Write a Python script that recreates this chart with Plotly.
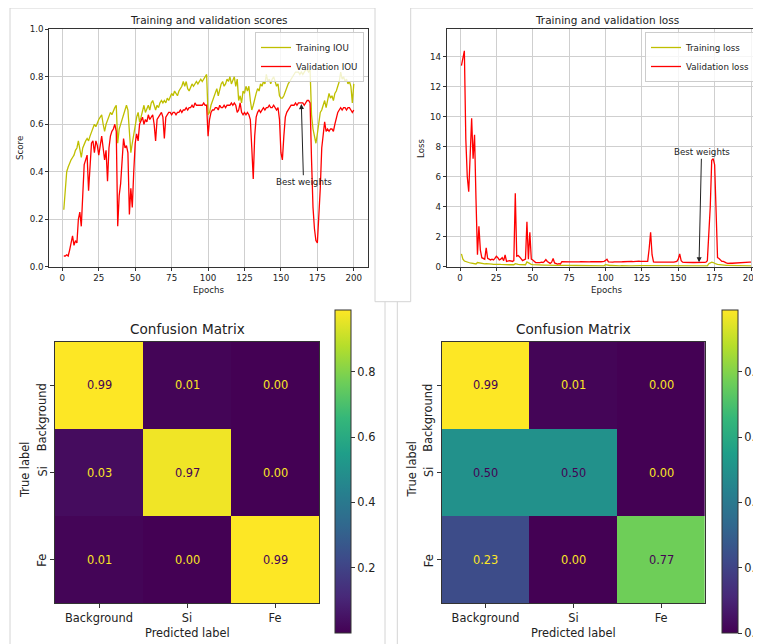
import plotly.graph_objects as go

# ---------------- data ----------------
epochs = list(range(1, 201))

train_iou = [
    0.24, 0.33, 0.40, 0.42, 0.44, 0.45, 0.46, 0.47, 0.49, 0.50,
    0.53, 0.49, 0.46, 0.50, 0.52, 0.53, 0.54, 0.53, 0.55, 0.57,
    0.58, 0.60, 0.59, 0.61, 0.62, 0.63, 0.64, 0.60, 0.57, 0.60,
    0.62, 0.63, 0.65, 0.64, 0.66, 0.67, 0.68, 0.52, 0.58, 0.60,
    0.62, 0.64, 0.66, 0.68, 0.66, 0.55, 0.48, 0.52, 0.56, 0.60,
    0.63, 0.65, 0.61, 0.63, 0.66, 0.68, 0.65, 0.67, 0.68, 0.66,
    0.69, 0.70, 0.68, 0.66, 0.68, 0.67, 0.69, 0.70, 0.69, 0.70,
    0.69, 0.71, 0.70, 0.72, 0.73, 0.72, 0.74, 0.73, 0.72, 0.74,
    0.75, 0.76, 0.78, 0.76, 0.78, 0.75, 0.74, 0.76, 0.77, 0.76,
    0.77, 0.78, 0.77, 0.78, 0.79, 0.78, 0.79, 0.80, 0.81, 0.64,
    0.65, 0.68, 0.70, 0.72, 0.74, 0.75, 0.72, 0.75, 0.77, 0.78,
    0.76, 0.77, 0.79, 0.78, 0.80, 0.77, 0.79, 0.80, 0.76, 0.79,
    0.70, 0.72, 0.69, 0.74, 0.73, 0.76, 0.74, 0.76, 0.70, 0.66,
    0.68, 0.71, 0.73, 0.75, 0.74, 0.77, 0.76, 0.78, 0.77, 0.81,
    0.78, 0.79, 0.77, 0.79, 0.80, 0.78, 0.76, 0.77, 0.72, 0.71,
    0.71, 0.72, 0.74, 0.76, 0.77, 0.78, 0.79, 0.80, 0.81, 0.82,
    0.82, 0.82, 0.81, 0.82, 0.81, 0.82, 0.83, 0.83, 0.82, 0.83,
    0.64, 0.58, 0.54, 0.52, 0.56, 0.62, 0.65, 0.66, 0.68, 0.70,
    0.67, 0.71, 0.73, 0.71, 0.72, 0.70, 0.73, 0.74, 0.76, 0.78,
    0.82, 0.79, 0.80, 0.78, 0.79, 0.77, 0.78, 0.76, 0.69, 0.77,
]

val_iou = [
    0.045, 0.045, 0.05, 0.045, 0.07, 0.10, 0.13, 0.09, 0.11, 0.10,
    0.20, 0.23, 0.17, 0.30, 0.43, 0.45, 0.47, 0.32, 0.45, 0.52,
    0.53, 0.48, 0.53, 0.51, 0.47, 0.52, 0.55, 0.50, 0.45, 0.49,
    0.36, 0.50, 0.55, 0.57, 0.58, 0.60, 0.57, 0.17, 0.30, 0.35,
    0.45, 0.54, 0.50, 0.51, 0.48, 0.22, 0.33, 0.25, 0.40, 0.52,
    0.56, 0.53, 0.60, 0.62, 0.63, 0.60, 0.62, 0.61, 0.64, 0.62,
    0.63, 0.64, 0.60, 0.53, 0.62, 0.63, 0.64, 0.65, 0.63, 0.54,
    0.63, 0.64, 0.65, 0.65, 0.64, 0.65, 0.65, 0.64, 0.65, 0.65,
    0.66, 0.65, 0.66, 0.66, 0.67, 0.66, 0.67, 0.67, 0.68, 0.67,
    0.69, 0.68, 0.68, 0.68, 0.68, 0.68, 0.69, 0.68, 0.68, 0.55,
    0.62, 0.65, 0.66, 0.66, 0.67, 0.67, 0.66, 0.68, 0.67, 0.67,
    0.68, 0.67, 0.68, 0.68, 0.68, 0.69, 0.68, 0.69, 0.68, 0.65,
    0.66, 0.69, 0.65, 0.64, 0.65, 0.64, 0.65, 0.64, 0.62, 0.50,
    0.37, 0.55, 0.63, 0.65, 0.66, 0.65, 0.66, 0.67, 0.66, 0.67,
    0.67, 0.68, 0.67, 0.67, 0.68, 0.67, 0.66, 0.67, 0.62, 0.48,
    0.45, 0.55, 0.63, 0.65, 0.66, 0.67, 0.68, 0.68, 0.68, 0.69,
    0.68, 0.69, 0.69, 0.69, 0.69, 0.68, 0.69, 0.70, 0.70, 0.69,
    0.45, 0.25, 0.16, 0.11, 0.10, 0.20, 0.33, 0.50, 0.56, 0.61,
    0.57, 0.58, 0.57, 0.58, 0.58, 0.57, 0.60, 0.63, 0.65, 0.66,
    0.67, 0.66, 0.67, 0.67, 0.66, 0.67, 0.67, 0.66, 0.65, 0.66,
]

train_loss = [
    0.85, 0.50, 0.38, 0.33, 0.30, 0.28, 0.25, 0.24, 0.22, 0.20,
    0.18, 0.28, 0.26, 0.20, 0.19, 0.18, 0.19, 0.20, 0.18, 0.17,
    0.18, 0.17, 0.16, 0.17, 0.16, 0.15, 0.16, 0.15, 0.14, 0.15,
    0.15, 0.14, 0.14, 0.13, 0.14, 0.13, 0.13, 0.20, 0.16, 0.15,
    0.14, 0.13, 0.13, 0.12, 0.13, 0.32, 0.25, 0.20, 0.16, 0.14,
    0.13, 0.12, 0.12, 0.11, 0.12, 0.11, 0.11, 0.10, 0.11, 0.10,
    0.10, 0.10, 0.10, 0.11, 0.10, 0.09, 0.09, 0.10, 0.09, 0.09,
    0.09, 0.09, 0.09, 0.08, 0.09, 0.08, 0.08, 0.09, 0.08, 0.08,
    0.08, 0.08, 0.08, 0.07, 0.08, 0.08, 0.07, 0.08, 0.07, 0.07,
    0.07, 0.07, 0.07, 0.07, 0.07, 0.07, 0.07, 0.06, 0.06, 0.14,
    0.11, 0.09, 0.08, 0.08, 0.07, 0.07, 0.07, 0.07, 0.07, 0.06,
    0.07, 0.06, 0.06, 0.06, 0.06, 0.06, 0.06, 0.06, 0.07, 0.06,
    0.09, 0.08, 0.08, 0.07, 0.07, 0.07, 0.07, 0.07, 0.08, 0.09,
    0.10, 0.08, 0.07, 0.07, 0.06, 0.06, 0.06, 0.06, 0.06, 0.06,
    0.06, 0.06, 0.06, 0.06, 0.06, 0.06, 0.06, 0.06, 0.07, 0.08,
    0.08, 0.07, 0.07, 0.06, 0.06, 0.06, 0.06, 0.05, 0.05, 0.05,
    0.05, 0.05, 0.05, 0.05, 0.05, 0.05, 0.05, 0.05, 0.05, 0.06,
    0.20, 0.28, 0.30, 0.28, 0.22, 0.18, 0.16, 0.14, 0.12, 0.11,
    0.10, 0.10, 0.09, 0.09, 0.08, 0.08, 0.08, 0.08, 0.07, 0.07,
    0.07, 0.07, 0.07, 0.07, 0.07, 0.06, 0.06, 0.06, 0.06, 0.06,
]

val_loss = [
    13.4, 13.8, 14.4, 8.5, 6.0, 5.0, 7.5, 9.9, 7.2, 8.8,
    4.5, 0.8, 2.7, 1.1, 0.6, 0.55, 0.5, 1.25, 0.55, 0.5,
    0.45, 0.5, 0.45, 0.55, 0.7, 0.6, 0.45, 0.5, 0.6, 0.4,
    0.78, 0.35, 0.4, 0.4, 0.38, 0.35, 0.4, 4.9, 0.7, 0.75,
    0.65, 0.5, 0.4, 0.45, 0.5, 3.0, 0.5, 2.3, 0.5, 0.45,
    0.35, 0.28, 0.27, 0.25, 0.27, 0.3, 0.28, 0.35, 0.48, 0.35,
    0.25, 0.22, 0.3, 0.55, 0.25, 0.18, 0.17, 0.2, 0.18, 0.33,
    0.32, 0.33, 0.31, 0.32, 0.33, 0.32, 0.32, 0.31, 0.33, 0.32,
    0.33, 0.32, 0.34, 0.33, 0.32, 0.33, 0.34, 0.33, 0.32, 0.33,
    0.34, 0.33, 0.33, 0.34, 0.33, 0.34, 0.33, 0.34, 0.35, 0.42,
    0.5, 0.32, 0.3, 0.31, 0.31, 0.32, 0.31, 0.32, 0.32, 0.33,
    0.32, 0.33, 0.34, 0.33, 0.34, 0.33, 0.34, 0.35, 0.34, 0.36,
    0.38, 0.4, 0.37, 0.36, 0.35, 0.34, 0.33, 0.34, 0.36, 1.2,
    2.3, 0.8, 0.32, 0.3, 0.29, 0.3, 0.3, 0.29, 0.3, 0.31,
    0.3, 0.29, 0.3, 0.3, 0.29, 0.3, 0.31, 0.32, 0.35, 0.5,
    0.85, 0.4, 0.3, 0.29, 0.28, 0.28, 0.29, 0.28, 0.28, 0.28,
    0.28, 0.29, 0.28, 0.28, 0.28, 0.28, 0.29, 0.29, 0.3, 0.4,
    2.0, 4.0, 7.1, 7.2, 6.8, 3.0, 0.6, 0.55, 0.45, 0.35,
    0.35, 0.28, 0.25, 0.22, 0.25, 0.24, 0.23, 0.24, 0.25, 0.25,
    0.26, 0.27, 0.28, 0.29, 0.3, 0.3, 0.31, 0.3, 0.31, 0.3,
]

classes = ["Background", "Si", "Fe"]
cm_left = [[0.99, 0.01, 0.00],
           [0.03, 0.97, 0.00],
           [0.01, 0.00, 0.99]]
cm_right = [[0.99, 0.01, 0.00],
            [0.50, 0.50, 0.00],
            [0.23, 0.00, 0.77]]

epoch_ticks = [0, 25, 50, 75, 100, 125, 150, 175, 200]
score_ticks = [0.0, 0.2, 0.4, 0.6, 0.8, 1.0]
loss_ticks = [0, 2, 4, 6, 8, 10, 12, 14]
cbar_ticks_left = [0.2, 0.4, 0.6, 0.8]
cbar_ticks_right = [0.0, 0.2, 0.4, 0.6, 0.8]

# ---------------- layout helpers ----------------
# the page body has an 8px margin, so screen coords are offset by 8px
OFF = 8
W, H = 761 - OFF, 644 - OFF
def PX(x):
    return (x - OFF) / W
def PY(y):
    return 1 - (y - OFF) / H

FONT = "DejaVu Sans"
TXT = "#222222"
AX = "#333333"
GRID = "#cfcfcf"
YEL = "#bfbf00"
RED = "#ff0000"
VIRIDIS = [[0.0, "#440154"], [0.111, "#482878"], [0.222, "#3e4989"], [0.333, "#31688e"],
           [0.444, "#26828e"], [0.555, "#1f9e89"], [0.666, "#35b779"], [0.777, "#6ece58"],
           [0.888, "#b5de2b"], [1.0, "#fde725"]]

fig = go.Figure()

# ---------------- line charts ----------------
fig.add_trace(go.Scatter(x=epochs, y=train_iou, mode="lines", name="Training IOU",
                         line=dict(color=YEL, width=1.3), xaxis="x", yaxis="y", legend="legend"))
fig.add_trace(go.Scatter(x=epochs, y=val_iou, mode="lines", name="Validation IOU",
                         line=dict(color=RED, width=1.3), xaxis="x", yaxis="y", legend="legend"))
fig.add_trace(go.Scatter(x=epochs, y=train_loss, mode="lines", name="Training loss",
                         line=dict(color=YEL, width=1.3), xaxis="x2", yaxis="y2", legend="legend2"))
fig.add_trace(go.Scatter(x=epochs, y=val_loss, mode="lines", name="Validation loss",
                         line=dict(color=RED, width=1.3), xaxis="x2", yaxis="y2", legend="legend2"))

# ---------------- heatmaps ----------------
# vertical pixel shift of the rotated row labels (style only)
row_label_shift = {"Background": -32, "Si": 1, "Fe": -1}

def add_cm(cm, xa, ya, cbx, ticks, label_x):
    flat = [v for row in cm for v in row]
    zmin, zmax = min(flat), max(flat)
    fig.add_trace(go.Heatmap(
        z=cm, x=classes, y=classes, xaxis=xa, yaxis=ya, zmin=zmin, zmax=zmax,
        colorscale=VIRIDIS, showscale=True, hoverinfo="skip",
        colorbar=dict(x=PX(cbx), xanchor="left", xpad=0, thickness=16,
                      len=323, lenmode="pixels", y=PY(471.5), yanchor="middle", ypad=0,
                      outlinewidth=1, outlinecolor=AX, ticks="outside", ticklen=4,
                      tickcolor=AX, tickvals=ticks, tickformat=".1f",
                      tickfont=dict(size=11.4, color=TXT, family=FONT))))
    thr = (zmin + zmax) / 2
    for i, row in enumerate(cm):
        for j, v in enumerate(row):
            fig.add_annotation(x=classes[j], y=classes[i], xref=xa, yref=ya,
                               text=f"{v:.2f}", showarrow=False,
                               font=dict(size=11.4, family=FONT,
                                         color="#440154" if v >= thr else "#fde725"))
    for c in classes:
        fig.add_annotation(x=PX(label_x), y=c, xref="paper", yref=ya, text=c,
                           showarrow=False, textangle=-90, xanchor="center",
                           yanchor="middle", yshift=row_label_shift[c],
                           font=dict(size=11.4, family=FONT, color=TXT))

add_cm(cm_left, "x3", "y3", 335, cbar_ticks_left, 42)
add_cm(cm_right, "x4", "y4", 722, cbar_ticks_right, 428.5)

# ---------------- axes ----------------
tick_small = dict(size=8.7, color=TXT, family=FONT)
tick_big = dict(size=11.4, color=TXT, family=FONT)

line_ax = dict(showline=True, linecolor=AX, linewidth=1, ticks="outside", ticklen=3,
               tickcolor=AX, showgrid=True, gridcolor=GRID, gridwidth=1,
               zeroline=False, tickfont=tick_small)

layout = dict(
    width=W, height=H, margin=dict(l=0, r=0, t=0, b=0, autoexpand=False),
    paper_bgcolor="white", plot_bgcolor="white",
    font=dict(family=FONT, color=TXT),
    xaxis=dict(domain=[PX(49.3), PX(368.3)], range=[-8.95, 209.95], tickvals=epoch_ticks,
               mirror=True, anchor="y", **line_ax),
    yaxis=dict(domain=[PY(266.7), PY(29.3)], range=[0, 1.0], tickvals=score_ticks,
               tickformat=".1f", mirror=True, anchor="x", **line_ax),
    xaxis2=dict(domain=[PX(446.7), 1.0], range=[-9.14, 206.87], tickvals=epoch_ticks,
                mirror=True, anchor="y2", **line_ax),
    yaxis2=dict(domain=[PY(266.7), PY(29.3)], range=[0, 15.83], tickvals=loss_ticks,
                mirror=False, anchor="x2", **line_ax),
)

hm_ax = dict(showline=True, mirror=True, linecolor=AX, linewidth=1, ticks="outside",
             ticklen=4, tickcolor=AX, showgrid=False, zeroline=False, tickfont=tick_big)
hm_x = dict(type="category", categoryorder="array", categoryarray=classes,
            range=[-0.5, 2.5], autorange=False)
hm_y = dict(type="category", categoryorder="array", categoryarray=classes,
            range=[2.5, -0.5], autorange=False, showticklabels=False)
layout["xaxis3"] = dict(domain=[PX(55), PX(319)], anchor="y3", **hm_x, **hm_ax)
layout["yaxis3"] = dict(domain=[PY(603.3), PY(341.7)], anchor="x3", **hm_y, **hm_ax)
layout["xaxis4"] = dict(domain=[PX(441.7), PX(705)], anchor="y4", **hm_x, **hm_ax)
layout["yaxis4"] = dict(domain=[PY(603.3), PY(341.7)], anchor="x4", **hm_y, **hm_ax)

leg = dict(bgcolor="rgba(255,255,255,0.8)", bordercolor="#cccccc", borderwidth=1,
           font=dict(size=8.7, color=TXT, family=FONT), yanchor="top", itemwidth=30,
           tracegroupgap=0)
layout["legend"] = dict(x=PX(364), y=PY(32), xanchor="right", **leg)
layout["legend2"] = dict(x=PX(645), y=PY(32), xanchor="left", **leg)

fig.update_layout(**layout)

# ---------------- text labels ----------------
def label(x, y, text, size, angle=0):
    fig.add_annotation(x=PX(x), y=PY(y), xref="paper", yref="paper", text=text,
                       showarrow=False, textangle=angle, xanchor="center", yanchor="middle",
                       font=dict(size=size, color=TXT, family=FONT))

label(208.8, 20, "Training and validation scores", 10.5)
label(606.5, 20, "Training and validation loss", 10.5)
label(20, 148, "Score", 8.7, -90)
label(421, 148, "Loss", 8.7, -90)
label(208.8, 289.5, "Epochs", 8.7)
label(606.5, 289.5, "Epochs", 8.7)
label(187, 329, "Confusion Matrix", 13.6)
label(573.4, 329, "Confusion Matrix", 13.6)
label(187, 633, "Predicted label", 11.4)
label(573.4, 633, "Predicted label", 11.4)
label(25, 470, "True label", 11.4, -90)
label(411.5, 470, "True label", 11.4, -90)

# "Best weights" arrows
fig.add_annotation(x=164, y=0.685, xref="x", yref="y", ax=165.5, ay=0.358, axref="x", ayref="y",
                   text="Best weights", showarrow=True, arrowhead=2, arrowsize=1,
                   arrowwidth=1, arrowcolor="#222222", font=dict(size=8.7, color=TXT, family=FONT))
fig.add_annotation(x=164.3, y=0.3, xref="x2", yref="y2", ax=166, ay=7.63, axref="x2", ayref="y2",
                   text="Best weights", showarrow=True, arrowhead=2, arrowsize=1,
                   arrowwidth=1, arrowcolor="#222222", font=dict(size=8.7, color=TXT, family=FONT))

# ---------------- panel borders ----------------
BORDER = "#d4d4d4"
segs = [
    ((10, 8), (375, 8)), ((10, 8), (10, 644)), ((375, 8), (375, 301.7)),
    ((375, 301.7), (410.7, 301.7)), ((410.7, 8), (410.7, 301.7)), ((410.7, 8), (761, 8)),
    ((385, 301.7), (385, 644)), ((397.3, 301.7), (397.3, 644)),
]
for (x0, y0), (x1, y1) in segs:
    fig.add_shape(type="line", xref="paper", yref="paper", x0=PX(x0), y0=PY(y0),
                  x1=PX(x1), y1=PY(y1), line=dict(color=BORDER, width=1), layer="below")

fig.write_html("out.html")
